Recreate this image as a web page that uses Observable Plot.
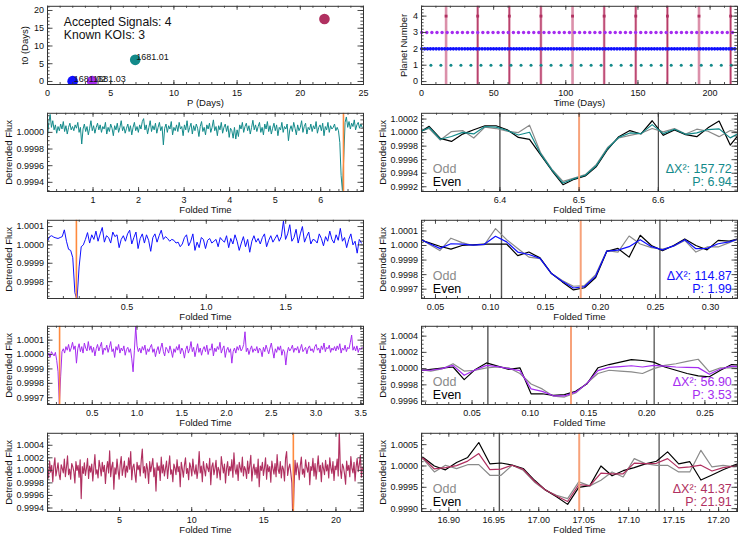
<!DOCTYPE html>
<html><head><meta charset="utf-8">
<script src="https://cdn.jsdelivr.net/npm/d3@7"></script>
<script src="https://cdn.jsdelivr.net/npm/@observablehq/plot@0.6"></script>
<style>
body{margin:0;background:#fff;}
#chart{position:relative;width:747px;height:534px;overflow:hidden;background:#fff;}
#chart > div{position:absolute;}
#chart svg{display:block;overflow:visible;}
</style></head><body><div id="chart"></div>
<script>
// ================= DATA =================
const signalIds = ["S1", "S2", "S3", "S4"];
const koiLabels = ["1681.01", "1681.02", "1681.03", null];
const periods = [6.94, 1.99, 3.53, 21.91];
const t0Days = [6.1, 0.1, 0.1, 17.6];
const deltaChi2 = [157.72, 114.87, 56.90, 41.37];
const transitCenter = [6.50, 0.182, 0.135, 17.045];   // folded time of transit
const windowHalf = [0.10, 0.072, 0.0714, 0.0888];     // half-width of the transit window

// transit times (days) per planet, top-right panel
const tealTimes = [6.50,13.44,20.38,27.32,34.26,41.20,48.14,55.08,62.02,68.96,75.90,82.84,89.78,96.72,103.66,110.60,117.54,124.48,131.42,138.36,145.30,152.24,159.18,166.12,173.06,180.00,186.94,193.88,200.82,207.76,214.70];
const blueTimes = [0.18,2.17,4.16,6.15,8.14,10.13,12.12,14.11,16.10,18.09,20.08,22.07,24.06,26.05,28.04,30.03,32.02,34.01,36.00,37.99,39.98,41.97,43.96,45.95,47.94,49.93,51.92,53.91,55.90,57.89,59.88,61.87,63.86,65.85,67.84,69.83,71.82,73.81,75.80,77.79,79.78,81.77,83.76,85.75,87.74,89.73,91.72,93.71,95.70,97.69,99.68,101.67,103.66,105.65,107.64,109.63,111.62,113.61,115.60,117.59,119.58,121.57,123.56,125.55,127.54,129.53,131.52,133.51,135.50,137.49,139.48,141.47,143.46,145.45,147.44,149.43,151.42,153.41,155.40,157.39,159.38,161.37,163.36,165.35,167.34,169.33,171.32,173.31,175.30,177.29,179.28,181.27,183.26,185.25,187.24,189.23,191.22,193.21,195.20,197.19,199.18,201.17,203.16,205.15,207.14,209.13,211.12,213.11,215.10,217.09];
const purpleTimes = [0.14,3.67,7.20,10.73,14.26,17.79,21.32,24.85,28.38,31.91,35.44,38.97,42.50,46.03,49.56,53.09,56.62,60.15,63.68,67.21,70.74,74.27,77.80,81.33,84.86,88.39,91.92,95.45,98.98,102.51,106.04,109.57,113.10,116.63,120.16,123.69,127.22,130.75,134.28,137.81,141.34,144.87,148.40,151.93,155.46,158.99,162.52,166.05,169.58,173.11,176.64,180.17,183.70,187.23,190.76,194.29,197.82,201.35,204.88,208.41,211.94,215.47];
const maroonTimes = [17.04,38.95,60.86,82.77,104.68,126.59,148.50,170.41,192.32,214.23];
const maroonStrongTimes = [38.95,60.86,82.77,126.59,148.50,170.41,214.23];

// full folded light curves: flux offsets in ppm, evenly spaced bins over one period
const tealPpm = [-60,120,215,60,140,30,90,-10,70,20,100,40,130,10,80,-20,60,110,30,70,
20,90,50,120,0,60,-140,40,100,10,70,-30,50,140,20,80,-10,60,110,30,
90,0,70,40,120,-20,60,10,100,50,-40,80,30,110,0,60,140,20,70,-10,
50,100,10,80,-30,60,120,20,70,0,90,40,130,165,30,90,-20,60,140,10,
80,30,110,-10,60,120,20,70,-150,50,100,0,80,40,130,-30,60,20,90,10,
120,40,70,-40,90,30,140,0,60,110,-20,80,20,100,50,-50,70,130,10,60,
-30,90,40,110,0,60,150,20,70,-40,80,30,120,-10,60,100,10,80,-60,50,
20,-70,60,-80,30,-50,90,40,120,0,70,110,20,80,-20,60,145,30,90,10,
70,120,0,60,-30,100,40,130,10,80,-20,50,110,20,90,-40,60,30,120,0,
70,40,100,-100,30,80,10,120,50,-30,90,20,60,140,0,70,110,-20,60,30,
100,10,80,40,130,-10,60,90,20,110,-40,70,30,120,0,80,40,60,100,20,
60,20,-120,-520,-700,-300,120,185,60,130,40,110,70,150,30,90,120,50,100,60];
const bluePpm = [20,45,50,42,38,35,40,45,82,20,-24,-30,-70,-260,-300,-120,-10,0,30,67,
10,55,30,75,20,60,95,15,50,40,10,70,45,55,-15,30,50,20,60,80,
5,40,70,-20,35,60,10,55,25,-35,40,60,15,50,80,30,45,35,20,30,
25,10,15,-10,5,40,55,-5,20,60,-30,15,-15,40,30,-20,25,35,10,20,
30,-10,40,25,15,50,-15,35,5,55,20,-30,10,45,-10,30,-40,20,50,15,
35,5,40,60,-10,25,50,15,35,55,20,45,130,30,60,110,20,40,85,10,
60,100,15,45,70,5,30,25,10,60,35,-5,45,20,75,30,10,55,25,90,
20,40,-15,30,60,0,20,-45,30,10];
const purplePpm = [-15,10,-20,20,5,-10,15,-40,-120,-350,-150,20,40,10,55,30,70,20,45,85,
35,60,-60,40,75,20,55,10,80,45,25,90,30,60,15,50,-10,40,70,25,
55,85,0,45,30,65,15,50,90,20,40,-20,55,30,70,10,45,25,60,-5,
35,50,15,40,-30,-120,30,197,60,20,45,10,55,30,65,0,40,20,50,70,
15,40,-15,30,55,5,45,80,20,-10,50,35,10,60,25,-20,40,15,55,30,
70,5,45,25,-25,35,60,10,40,90,20,50,-15,30,75,15,45,-5,35,55,
20,65,0,40,30,75,-10,45,20,55,35,85,10,40,60,-20,30,50,15,40,
-60,20,45,10,55,30,65,25,40,70,158,20,45,0,35,60,15,40,25,55,
10,45,30,-15,50,20,65,35,5,45,80,25,-25,40,15,55,30,60,-5,35,
20,-73,10,50,25,40,65,15,45,30,55,10,40,70,20,35,50,5,45,60,
25,40,15,55,70,30,45,10,60,35,80,20,50,40,65,15,45,30,55,25,
60,35,75,10,45,30,65,20,50,40,85,135,30,55,25,60,15,45,35,50];
const maroonPpm = [40,-120,150,-30,80,-180,60,200,-90,10,120,-60,-150,90,30,-40,180,-100,50,230,
-70,20,-140,110,60,-20,-200,140,0,80,-110,170,-450,60,-50,120,-80,30,190,-130,
70,-30,100,-170,40,250,-60,10,-120,160,50,-90,130,-20,80,-210,20,140,-40,310,
-100,60,130,-300,40,-60,180,0,-140,90,220,-80,30,150,-110,70,-30,200,20,300,
-150,50,100,-60,-190,130,10,80,-90,160,340,-40,60,-120,110,20,-210,140,-20,80,
190,-100,40,-330,120,0,70,-160,210,-40,90,-90,30,150,-130,60,230,-60,10,-180,
100,40,-70,170,-20,60,-260,130,20,-110,80,200,-50,30,-150,120,50,-90,180,0,
-60,90,-130,20,300,-40,70,-180,140,10,-90,110,40,-20,190,-230,60,120,-70,30,
160,-120,50,0,-150,220,80,-40,100,-200,30,140,-80,60,-10,170,-110,280,20,-60,
90,-160,130,40,-30,210,-90,60,10,-130,150,-50,80,240,-170,20,100,-70,50,-120,
180,-260,70,0,130,-80,40,200,-140,90,-20,60,-190,150,30,-60,110,-100,250,10,
-50,140,-120,70,20,-170,190,300,-80,40,100,-40,-200,-900,-300,160,-70,120,30,-150,
80,210,-60,20,-110,170,50,-30,130,-230,60,0,190,-90,110,-140,40,230,-20,80,
-180,120,30,-70,160,-10,90,-120,200,40,-50,140,-160,70,10,180,-90,650,20,-130,
100,50,-60,-220,150,0,80,-100,220,30,-40,130,-170,60,190,-20,90,240,-110,50];

// zoomed transit windows: first bin time, bin width, and ppm offsets (odd, even, all)
const tealZoomStart = 6.2966, tealZoomStep = 0.01408;
const tealOdd  = [10,60,-110,15,30,-80,80,60,20,0,110,-300,-540,-720,-670,-620,-470,-220,-80,-40,-10,60,10,60,-20,50,20,-60,30,0];
const tealEven = [-10,92,-86,-130,-22,42,101,101,42,-71,-100,-330,-560,-770,-690,-640,-500,-250,-60,30,-20,175,-40,40,-30,-60,70,170,-185,20];
const tealAll  = [0,76,-98,-58,4,-19,90,80,31,-35,5,-315,-550,-745,-680,-630,-485,-235,-70,-5,-15,118,-15,50,-25,-5,45,55,-78,10];
const blueZoomStart = 0.0337, blueZoomStep = 0.01012;
const blueOdd  = [60,10,-35,50,20,0,5,116,40,-20,-80,-90,-190,-240,-280,-275,-200,-35,-45,65,10,-15,-25,-5,35,-45,-10,-10,20,50];
const blueEven = [45,20,-5,-25,0,5,10,10,10,-70,-45,-85,-190,-250,-305,-290,-220,-40,-20,-80,70,0,-35,0,45,0,-30,35,30,50];
const blueAll  = [52,15,-20,12,10,3,8,63,25,-45,-62,-88,-190,-245,-292,-282,-210,-38,-32,-8,40,-8,-30,-3,40,-22,-20,12,25,50];
const purpleZoomStart = 0.005, purpleZoomStep = 0.00957;
const purpleOdd  = [-10,-30,-5,60,-30,-20,10,20,10,-60,-190,-250,-340,-350,-300,-180,-60,-20,-30,-40,-60,0,40,60,90,115,-40,10,10,0];
const purpleEven = [-25,-10,5,20,-135,-10,70,30,-10,10,-310,-310,-330,-320,-280,-190,10,50,80,110,100,80,20,-20,-60,-90,-100,-20,50,40];
const purpleAll  = [-18,-20,0,40,-82,-15,40,25,0,-25,-250,-280,-335,-335,-290,-185,-25,15,25,35,20,40,30,20,15,12,-70,-5,30,20];
const maroonZoomStart = 16.8592, maroonZoomStep = 0.01235;
const maroonOdd  = [200,160,-140,16,-62,30,31,-218,-218,16,-101,-374,-569,-686,-764,-374,-467,-335,-140,-257,172,55,16,16,-140,-140,367,-23,16,-23,0];
const maroonEven = [230,200,0,-90,80,200,550,50,70,20,-60,-330,-560,-720,-900,-500,-460,0,-230,-110,-40,50,110,330,50,100,-330,-210,-90,20,120];
const maroonAll  = [215,180,-70,-37,9,115,290,-84,-74,18,-80,-352,-565,-703,-832,-437,-463,-168,-185,-183,66,53,63,173,-45,-20,18,-117,-37,-2,60];

// tick values
const tlXTicks = [0,5,10,15,20,25], tlYTicks = [0,5,10,15,20];
const trXTicks = [0,50,100,150,200], trYTicks = [0,1,2,3,4];
const tealLXTicks = [1,2,3,4,5,6], tealLYTicks = [0.9994,0.9996,0.9998,1.0000];
const blueLXTicks = [0.5,1.0,1.5], blueLYTicks = [0.9998,0.9999,1.0000,1.0001];
const purpleLXTicks = [0.5,1.0,1.5,2.0,2.5,3.0,3.5], purpleLYTicks = [0.9997,0.9998,0.9999,1.0000,1.0001];
const maroonLXTicks = [5,10,15,20], maroonLYTicks = [0.9994,0.9996,0.9998,1.0000,1.0002,1.0004];
const tealRXTicks = [6.4,6.5,6.6], tealRYTicks = [0.9992,0.9994,0.9996,0.9998,1.0000,1.0002];
const blueRXTicks = [0.05,0.10,0.15,0.20,0.25,0.30], blueRYTicks = [0.9997,0.9998,0.9999,1.0000,1.0001];
const purpleRXTicks = [0.05,0.10,0.15,0.20,0.25], purpleRYTicks = [0.9996,0.9998,1.0000,1.0002,1.0004];
const maroonRXTicks = [16.90,16.95,17.00,17.05,17.10,17.15,17.20], maroonRYTicks = [0.9990,0.9995,1.0000,1.0005];

// ================= STYLE / LAYOUT =================
const FONT = '"Liberation Sans", Arial, Helvetica, sans-serif';
const C = {teal: "#138a8a", blue: "#1010ff", purple: "#a52cf0", maroon: "#b03060",
  pink: "#db90aa", orangeL: "#ff8a3d", orangeR: "#f7a27a", odd: "#8a8a8a", even: "#000"};
const ML = 47, FW = 316, FT = 5.8, FH = 78.2, ROW_H = 106.8, PH = 107;

const flux = v => 1 + v * 1e-6;
const foldLC = (ppm, period) => ppm.map((v, i) => ({t: i * period / ppm.length, f: flux(v)}));
const zoomLC = (ppm, start, step) => ppm.map((v, i) => ({t: start + i * step, f: flux(v)}));

function every(domain, step) {
  const out = [];
  const a = Math.ceil(domain[0] / step - 1e-6), b = Math.floor(domain[1] / step + 1e-6);
  for (let k = a; k <= b; k++) out.push(k * step);
  return out;
}

function panel(c) {
  const W = c.col === 0 ? 374 : 373;
  const tk = {stroke: "#3a3a3a", strokeWidth: 0.9};
  const yMin = every(c.yDomain, c.yMinor), xMin = every(c.xDomain, c.xMinor);
  const svg = Plot.plot({
    width: W, height: PH,
    marginLeft: ML, marginRight: W - ML - FW, marginTop: FT, marginBottom: PH - FT - FH,
    x: {domain: c.xDomain, axis: null},
    y: {domain: c.yDomain, axis: null},
    ...(c.color ? {color: c.color} : {}),
    style: {fontFamily: FONT, fontSize: "9px", background: "transparent", overflow: "visible", color: "#111"},
    marks: [
      ...c.marks,
      Plot.frame({stroke: "#333", strokeWidth: 1}),
      Plot.tickY(c.yTicks, {y: d => d, insetRight: FW - 5.5, ...tk}),
      Plot.tickY(c.yTicks, {y: d => d, insetLeft: FW - 5.5, ...tk}),
      Plot.tickY(yMin, {y: d => d, insetRight: FW - 2.6, ...tk}),
      Plot.tickY(yMin, {y: d => d, insetLeft: FW - 2.6, ...tk}),
      Plot.tickX(c.xTicks, {x: d => d, insetTop: FH - 4, ...tk}),
      Plot.tickX(c.xTicks, {x: d => d, insetBottom: FH - 4, ...tk}),
      Plot.tickX(xMin, {x: d => d, insetTop: FH - 2, ...tk}),
      Plot.tickX(xMin, {x: d => d, insetBottom: FH - 2, ...tk}),
      Plot.axisX(c.xTicks, {tickSize: 0, tickPadding: 4.9, tickFormat: c.xFmt, fontSize: 9, label: null}),
      Plot.axisY(c.yTicks, {tickSize: 0, tickPadding: 3.5, tickFormat: c.yFmt, fontSize: 9, label: null}),
      Plot.text([c.xLabel], {text: d => d, frameAnchor: "bottom", dy: 21.7, textAnchor: "middle", lineAnchor: "bottom", fontSize: 9.5}),
      Plot.text([c.yLabel], {text: d => d, frameAnchor: "left", dx: c.yLabelDx, rotate: -90, textAnchor: "middle", lineAnchor: "middle", fontSize: 9.5}),
      ...(c.overlay || [])
    ]
  });
  const div = document.createElement("div");
  div.style.left = (c.col === 0 ? 0 : 374) + "px";
  div.style.top = (c.row * ROW_H) + "px";
  div.appendChild(svg);
  document.getElementById("chart").appendChild(div);
}

// ---------- top-left: t0 vs P ----------
const signals = signalIds.map((id, i) => ({id, P: periods[i], t0: t0Days[i], label: koiLabels[i]}));
const known = signals.filter(d => d.label);
panel({
  col: 0, row: 0, xDomain: [0, 25], yDomain: [-0.85, 21.18],
  xTicks: tlXTicks, yTicks: tlYTicks, xMinor: 1, yMinor: 1, xFmt: "d", yFmt: "d",
  xLabel: "P (Days)", yLabel: "t0 (Days)", yLabelDx: -22.5,
  color: {domain: signalIds, range: [C.teal, C.blue, C.purple, C.maroon]},
  marks: [
    Plot.dot(signals, {x: "P", y: "t0", r: 5.3, fill: "id", clip: true}),
    Plot.text(known, {x: "P", y: "t0", text: "label", dx: 1, dy: -2.5, textAnchor: "start", lineAnchor: "middle", fontSize: 9})
  ],
  overlay: [
    Plot.text([`Accepted Signals: ${signals.length}`], {text: d => d, frameAnchor: "top-left", dx: 16.3, dy: 19.8, textAnchor: "start", lineAnchor: "bottom", fontSize: 12.2}),
    Plot.text([`Known KOIs: ${known.length}`], {text: d => d, frameAnchor: "top-left", dx: 16.3, dy: 32.2, textAnchor: "start", lineAnchor: "bottom", fontSize: 12.2})
  ]
});

// ---------- top-right: transit times ----------
panel({
  col: 1, row: 0, xDomain: [0, 219], yDomain: [-0.18, 4.6],
  xTicks: trXTicks, yTicks: trYTicks, xMinor: 10, yMinor: 0.2, xFmt: "d", yFmt: "d",
  xLabel: "Time (Days)", yLabel: "Planet Number", yLabelDx: -17.3,
  marks: [
    Plot.ruleX(maroonTimes, {x: d => d, stroke: C.pink, strokeWidth: 2.6}),
    Plot.ruleX(maroonStrongTimes, {x: d => d, stroke: C.maroon, strokeWidth: 1}),
    Plot.dot(tealTimes, {x: d => d, y: 1, r: 1.5, fill: C.teal, stroke: "none"}),
    Plot.dot(blueTimes, {x: d => d, y: 2, r: 1.8, fill: C.blue, stroke: "none"}),
    Plot.dot(purpleTimes, {x: d => d, y: 3, r: 1.7, fill: C.purple, stroke: "none"}),
    Plot.dot(maroonTimes, {x: d => d, y: 4, r: 1.6, symbol: "square", fill: C.maroon, stroke: "none"})
  ]
});

// ---------- folded light curves and zoomed transits ----------
const rows = [
  {ppm: tealPpm, color: C.teal, lY: [0.99929, 1.000229], lXT: tealLXTicks, lYT: tealLYTicks, lxm: 0.2, lym: 0.00005, lxf: "d",
   start: tealZoomStart, step: tealZoomStep, odd: tealOdd, even: tealEven, all: tealAll,
   rX: [6.301, 6.700], rY: [0.99913, 1.000285], rXT: tealRXTicks, rYT: tealRYTicks, rxm: 0.02, rym: 0.00005, rxf: ".1f"},
  {ppm: bluePpm, color: C.blue, lY: [0.999708, 1.000134], lXT: blueLXTicks, lYT: blueLYTicks, lxm: 0.1, lym: 0.00002, lxf: ".1f",
   start: blueZoomStart, step: blueZoomStep, odd: blueOdd, even: blueEven, all: blueAll,
   rX: [0.0373, 0.3245], rY: [0.999636, 1.000173], rXT: blueRXTicks, rYT: blueRYTicks, rxm: 0.01, rym: 0.00002, rxf: ".2f"},
  {ppm: purplePpm, color: C.purple, lY: [0.999653, 1.000196], lXT: purpleLXTicks, lYT: purpleLYTicks, lxm: 0.1, lym: 0.00002, lxf: ".1f",
   start: purpleZoomStart, step: purpleZoomStep, odd: purpleOdd, even: purpleEven, all: purpleAll,
   rX: [0.0066, 0.278], rY: [0.999558, 1.000521], rXT: purpleRXTicks, rYT: purpleRYTicks, rxm: 0.01, rym: 0.00005, rxf: ".2f"},
  {ppm: maroonPpm, color: C.maroon, lY: [0.999344, 1.000591], lXT: maroonLXTicks, lYT: maroonLYTicks, lxm: 1, lym: 0.00005, lxf: "d",
   start: maroonZoomStart, step: maroonZoomStep, odd: maroonOdd, even: maroonEven, all: maroonAll,
   rX: [16.8696, 17.221], rY: [0.998933, 1.000766], rXT: maroonRXTicks, rYT: maroonRYTicks, rxm: 0.01, rym: 0.0001, rxf: ".2f"}
];

rows.forEach((r, i) => {
  const P = periods[i], tc = transitCenter[i], hw = windowHalf[i];
  panel({
    col: 0, row: i + 1, xDomain: [0, P], yDomain: r.lY,
    xTicks: r.lXT, yTicks: r.lYT, xMinor: r.lxm, yMinor: r.lym, xFmt: r.lxf, yFmt: ".4f",
    xLabel: "Folded Time", yLabel: "Detrended Flux", yLabelDx: -38.5,
    marks: [
      Plot.line(foldLC(r.ppm, P), {x: "t", y: "f", stroke: r.color, strokeWidth: i === 3 ? 1.15 : 1, clip: true}),
      Plot.ruleX([tc], {x: d => d, stroke: C.orangeL, strokeWidth: 1.6})
    ]
  });
  panel({
    col: 1, row: i + 1, xDomain: r.rX, yDomain: r.rY,
    xTicks: r.rXT, yTicks: r.rYT, xMinor: r.rxm, yMinor: r.rym, xFmt: r.rxf, yFmt: ".4f",
    xLabel: "Folded Time", yLabel: "Detrended Flux", yLabelDx: -38.5,
    marks: [
      Plot.ruleX([tc - hw], {x: d => d, stroke: "#555", strokeWidth: 1.4}),
      Plot.ruleX([tc + hw], {x: d => d, stroke: "#222", strokeWidth: 1}),
      Plot.line(zoomLC(r.odd, r.start, r.step), {x: "t", y: "f", stroke: C.odd, strokeWidth: 1.2, clip: true}),
      Plot.line(zoomLC(r.even, r.start, r.step), {x: "t", y: "f", stroke: C.even, strokeWidth: 1.2, clip: true}),
      Plot.line(zoomLC(r.all, r.start, r.step), {x: "t", y: "f", stroke: r.color, strokeWidth: 1.2, clip: true}),
      Plot.ruleX([tc], {x: d => d, stroke: C.orangeR, strokeWidth: 2})
    ],
    overlay: [
      Plot.text(["Odd"], {text: d => d, frameAnchor: "bottom-left", dx: 11.3, dy: -19, textAnchor: "start", lineAnchor: "bottom", fill: C.odd, fontSize: 12.5}),
      Plot.text(["Even"], {text: d => d, frameAnchor: "bottom-left", dx: 11.3, dy: -6, textAnchor: "start", lineAnchor: "bottom", fill: C.even, fontSize: 12.5}),
      Plot.text([`ΔX²: ${deltaChi2[i].toFixed(2)}`], {text: d => d, frameAnchor: "bottom-right", dx: -5.7, dy: -19, textAnchor: "end", lineAnchor: "bottom", fill: r.color, fontSize: 12.5}),
      Plot.text([`P: ${P.toFixed(2)}`], {text: d => d, frameAnchor: "bottom-right", dx: -5.7, dy: -6, textAnchor: "end", lineAnchor: "bottom", fill: r.color, fontSize: 12.5})
    ]
  });
});
</script></body></html>
